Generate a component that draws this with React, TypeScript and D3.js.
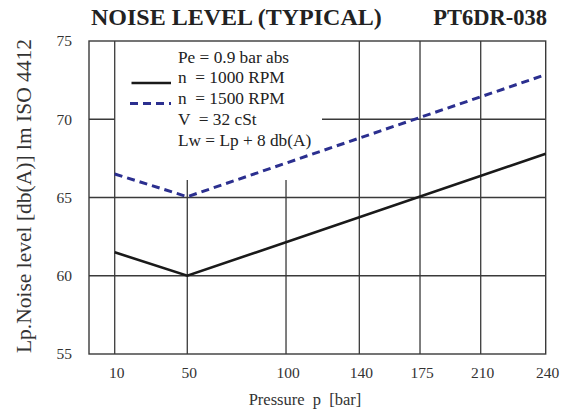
import React, { useRef, useEffect } from 'react';
import * as d3 from 'd3';

// pressure [bar] at which the curves break
const pressures = [10, 50, 240];
// Lp noise level [db(A)]
const rpm1000 = [61.5, 60.0, 67.8];
const rpm1500 = [66.5, 65.05, 72.85];

const xTicks = [10, 50, 100, 140, 175, 210, 240];
const yTicks = [55, 60, 65, 70, 75];

const legendText = ['Pe = 0.9 bar abs', 'n  = 1000 RPM', 'n  = 1500 RPM', 'V  = 32 cSt', 'Lw = Lp + 8 db(A)'];

export default function App(): JSX.Element {
  const svgRef = useRef<SVGSVGElement>(null);

  useEffect(() => {
    const el = svgRef.current;
    if (el == null) return;
    const svg = d3.select(el);
    svg.selectAll('*').remove();

    const W = 564;
    const H = 411;
    const left = 89;
    const right = 545.7;
    const top = 41;
    const bottom = 354;
    const w = right - left;

    // the printed grid is not evenly spaced, so map it piece by piece
    const x = d3
      .scaleLinear()
      .domain([-4, 10, 50, 100, 140, 175, 210, 240])
      .range([0, 0.0563, 0.2152, 0.4314, 0.5919, 0.7248, 0.8577, 1].map((f) => left + f * w));
    const y = d3.scaleLinear().domain([55, 75]).range([bottom, top]);

    const grid = '#3a3a3a';
    const serif = '"Liberation Serif", "Times New Roman", serif';

    svg.append('rect').attr('width', W).attr('height', H).attr('fill', '#fff');

    // titles
    svg
      .append('text')
      .attr('x', 91)
      .attr('y', 25)
      .attr('font-family', serif)
      .attr('font-weight', 'bold')
      .attr('font-size', 24)
      .attr('fill', '#222')
      .text('NOISE LEVEL (TYPICAL)');
    svg
      .append('text')
      .attr('x', 547)
      .attr('y', 25)
      .attr('text-anchor', 'end')
      .attr('font-family', serif)
      .attr('font-weight', 'bold')
      .attr('font-size', 22.5)
      .attr('fill', '#222')
      .text('PT6DR-038');

    const g = svg.append('g');

    // horizontal grid
    g.selectAll('line.h')
      .data(yTicks.filter((d) => d !== 55 && d !== 75))
      .join('line')
      .attr('x1', left)
      .attr('x2', right)
      .attr('y1', (d) => y(d))
      .attr('y2', (d) => y(d))
      .attr('stroke', grid)
      .attr('stroke-width', 1.3);

    // legend box (white) covers top-left part of grid
    const legendBox = { x0: x(10), x1: 322, y0: top, y1: 180 };
    g.append('rect')
      .attr('x', legendBox.x0)
      .attr('y', legendBox.y0)
      .attr('width', legendBox.x1 - legendBox.x0)
      .attr('height', legendBox.y1 - legendBox.y0)
      .attr('fill', '#fff');

    // vertical grid
    g.selectAll('line.v')
      .data(xTicks.filter((d) => d !== 240))
      .join('line')
      .attr('x1', (d) => x(d))
      .attr('x2', (d) => x(d))
      .attr('y1', (d) => (x(d) > legendBox.x0 + 1 && x(d) < legendBox.x1 ? legendBox.y1 : top))
      .attr('y2', bottom)
      .attr('stroke', grid)
      .attr('stroke-width', 1.3);

    // frame
    g.append('rect')
      .attr('x', left)
      .attr('y', top)
      .attr('width', w)
      .attr('height', bottom - top)
      .attr('fill', 'none')
      .attr('stroke', grid)
      .attr('stroke-width', 1.4);

    // tick labels
    g.selectAll('text.yt')
      .data(yTicks)
      .join('text')
      .attr('x', 72)
      .attr('y', (d) => y(d))
      .attr('dy', '0.35em')
      .attr('text-anchor', 'end')
      .attr('font-family', serif)
      .attr('font-size', 15.5)
      .attr('fill', '#333')
      .text((d) => d);

    g.selectAll('text.xt')
      .data(xTicks)
      .join('text')
      .attr('x', (d) => x(d) + 2)
      .attr('y', 378)
      .attr('text-anchor', 'middle')
      .attr('font-family', serif)
      .attr('font-size', 15.5)
      .attr('fill', '#333')
      .text((d) => d);

    // axis titles
    svg
      .append('text')
      .attr('x', 305)
      .attr('y', 405)
      .attr('text-anchor', 'middle')
      .attr('font-family', serif)
      .attr('font-size', 16.5)
      .attr('fill', '#333')
      .style('white-space', 'pre')
      .text('Pressure  p  [bar]');
    svg
      .append('text')
      .attr('transform', 'translate(31,196) rotate(-90)')
      .attr('text-anchor', 'middle')
      .attr('font-family', serif)
      .attr('font-size', 21.5)
      .attr('fill', '#333')
      .text('Lp.Noise level [db(A)] lm ISO 4412');

    // legend text
    g.selectAll('text.lg')
      .data(legendText)
      .join('text')
      .attr('x', 178)
      .attr('y', (_d, i) => 62.5 + i * 20.8)
      .attr('font-family', serif)
      .attr('font-size', 17.3)
      .attr('fill', '#222')
      .style('white-space', 'pre')
      .text((d) => d);

    g.append('line')
      .attr('x1', 131.5)
      .attr('x2', 171)
      .attr('y1', 83)
      .attr('y2', 83)
      .attr('stroke', '#1a1a1a')
      .attr('stroke-width', 2.6);
    g.append('line')
      .attr('x1', 130)
      .attr('x2', 171)
      .attr('y1', 103.5)
      .attr('y2', 103.5)
      .attr('stroke', '#2b2f8f')
      .attr('stroke-width', 3)
      .attr('stroke-dasharray', '8,5');

    // curves
    const line = d3
      .line<number>()
      .x((_d, i) => x(pressures[i]))
      .y((d) => y(d));

    g.append('path')
      .attr('d', line(rpm1000))
      .attr('fill', 'none')
      .attr('stroke', '#1a1a1a')
      .attr('stroke-width', 2.6);
    g.append('path')
      .attr('d', line(rpm1500))
      .attr('fill', 'none')
      .attr('stroke', '#2b2f8f')
      .attr('stroke-width', 3)
      .attr('stroke-dasharray', '8,5');
  }, []);

  return (
    <svg
      ref={svgRef}
      width={564}
      height={411}
      style={{ position: 'absolute', left: 0, top: 0, display: 'block' }}
    />
  );
}
